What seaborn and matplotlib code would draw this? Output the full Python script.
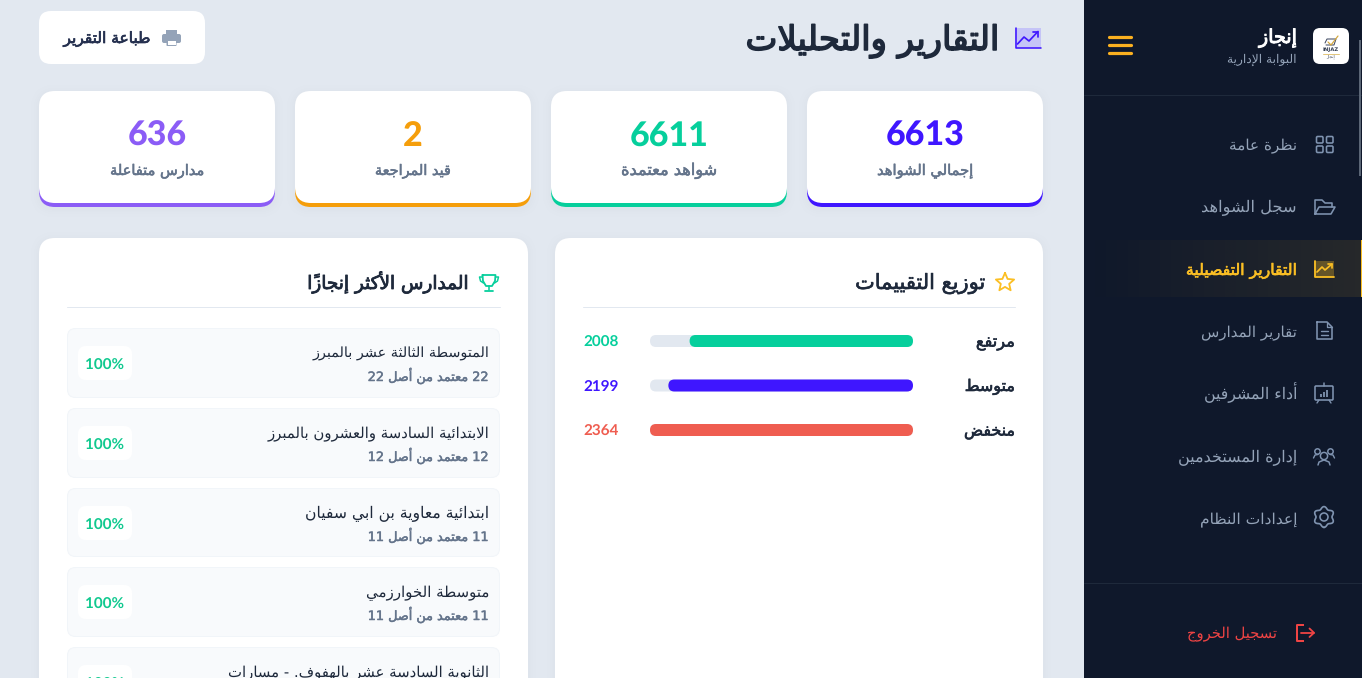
import numpy as np
import matplotlib
matplotlib.use("Agg")
import matplotlib.pyplot as plt
import matplotlib.patheffects as pe
from matplotlib.patches import FancyBboxPatch, Circle, Rectangle
import seaborn as sns

# ---------- data ----------
kpi_values = [6613, 6611, 2, 636]
kpi_labels = ["إجمالي الشواهد", "شواهد معتمدة", "قيد المراجعة", "مدارس متفاعلة"]
kpi_label_widths = [96, 96, 76, 94]
kpi_colors = ["#3f16ff", "#06cf9c", "#f59e0b", "#8b5cf6"]

rating_labels = ["مرتفع", "متوسط", "منخفض"]
rating_values = [2008, 2199, 2364]
rating_colors = ["#06cf9c", "#3f16ff", "#ef5d50"]
rating_label_widths = [39, 50, 51]

school_names = ["المتوسطة الثالثة عشر بالمبرز", "الابتدائية السادسة والعشرون بالمبرز",
                "ابتدائية معاوية بن ابي سفيان", "متوسطة الخوارزمي",
                "الثانوية السادسة عشر بالهفوف. - مسارات"]
school_name_widths = [178, 222, 184, 124, 261]
school_approved = [22, 12, 11, 11]
school_total = [22, 12, 11, 11]
school_pct = [100, 100, 100, 100, 100]

menu_labels = ["نظرة عامة", "سجل الشواهد", "التقارير التفصيلية", "تقارير المدارس",
               "أداء المشرفين", "إدارة المستخدمين", "إعدادات النظام"]
menu_widths = [68, 96, 111, 96, 94, 119, 97]
menu_baselines = [150, 212.5, 275, 337, 399, 462, 524]

# ---------- Arabic shaping (matplotlib has no shaper or bidi) ----------
_F = {}
def _reg(chars, start, four):
    c = start
    for ch in chars:
        if four:
            _F[ch] = (c, c + 1, c + 2, c + 3); c += 4
        else:
            _F[ch] = (c, c + 1, None, None); c += 2
_F["ء"] = (0xFE80, None, None, None)
_reg("آأؤإ", 0xFE81, False)
_F["ئ"] = (0xFE89, 0xFE8A, 0xFE8B, 0xFE8C)
_F["ا"] = (0xFE8D, 0xFE8E, None, None)
_F["ب"] = (0xFE8F, 0xFE90, 0xFE91, 0xFE92)
_F["ة"] = (0xFE93, 0xFE94, None, None)
_reg("تثجحخ", 0xFE95, True)
_reg("دذرز", 0xFEA9, False)
_reg("سشصضطظعغفقكلمنه", 0xFEB1, True)
_F["و"] = (0xFEED, 0xFEEE, None, None)
_F["ى"] = (0xFEEF, 0xFEF0, None, None)
_F["ي"] = (0xFEF1, 0xFEF2, 0xFEF3, 0xFEF4)
_LA = {"آ": (0xFEF5, 0xFEF6), "أ": (0xFEF7, 0xFEF8), "إ": (0xFEF9, 0xFEFA), "ا": (0xFEFB, 0xFEFC)}
_MARKS = "\u064b\u064c\u064d\u064e\u064f\u0650\u0651\u0652"

def ar(text):
    toks = []
    i = 0
    while i < len(text):
        ch = text[i]
        if ch in _MARKS and toks:
            toks[-1]["m"] += ch
        elif ch == "ل" and i + 1 < len(text) and text[i + 1] in _LA:
            toks.append({"c": ch, "la": _LA[text[i + 1]], "m": ""}); i += 1
        elif ch.isascii() and ch.isdigit():
            j = i
            while j < len(text) and text[j].isdigit():
                j += 1
            toks.append({"c": text[i:j], "m": ""}); i = j - 1
        else:
            toks.append({"c": ch, "m": ""})
        i += 1
    out = []
    for k, t in enumerate(toks):
        c = t["c"]
        if c not in _F:
            out.append(c + t["m"]); continue
        p = toks[k - 1] if k else None
        n = toks[k + 1] if k + 1 < len(toks) else None
        pj = bool(p and p["c"] in _F and "la" not in p and _F[p["c"]][2] is not None)
        nj = bool(n and n["c"] in _F and n["c"] != "ء")
        if "la" in t:
            g = t["la"][1 if pj else 0]
        else:
            iso, fin, ini, med = _F[c]
            cn = nj and ini is not None
            g = med if (pj and cn) else fin if pj else ini if cn else iso
        out.append(chr(g) + t["m"])
    return "".join(reversed(out))

# ---------- theme and canvas ----------
sns.set_theme(style="white")
plt.rcParams["font.family"] = ["DejaVu Sans"]
plt.rcParams["text.hinting"] = "no_hinting"

PAGE = "#e2e8f0"; SIDE = "#0f182b"; INK = "#1e293b"; MUTED = "#64748b"; ICON = "#7f93b0"
NAV = "#94a3b8"; GOLD = "#fbbf24"

fig = plt.figure(figsize=(13.62, 6.78), dpi=100, facecolor=PAGE)
ui = fig.add_axes([0, 0, 1, 1], zorder=0)
ui.set_xlim(0, 1362); ui.set_ylim(678, 0); ui.axis("off")
renderer = fig.canvas.get_renderer()
PX = 0.72

def fit(t, width):
    for _ in range(2):
        w = t.get_window_extent(renderer).width
        t.set_fontsize(t.get_fontsize() * width / w)
    return t

def embolden(t, amount, color):
    if amount:
        t.set_path_effects([pe.withStroke(linewidth=amount, foreground=color)])
    return t

def label(x, y, s, width, color, ha="right", stroke=0.0, z=5):
    t = ui.text(x, y, s, ha=ha, va="baseline", color=color, family="DejaVu Sans",
                fontsize=10, zorder=z)
    fit(t, width)
    return embolden(t, stroke, color)

def rrect(x0, y0, x1, y1, r, fc, ec="none", lw=0, z=2, alpha=None):
    p = FancyBboxPatch((x0, y0), x1 - x0, y1 - y0, boxstyle=f"round,pad=0,rounding_size={r}",
                       fc=fc, ec=ec, lw=lw * PX, zorder=z, alpha=alpha)
    ui.add_patch(p)
    return p

def path(pts, color, lw=1.5, z=6, cap="round", closed=False):
    pts = list(pts)
    if closed:
        pts = pts + [pts[0]]
    xs, ys = zip(*pts)
    ui.plot(xs, ys, color=color, lw=lw * PX, solid_capstyle=cap, solid_joinstyle="round", zorder=z)

def shadow(x0, y0, x1, y1, r):
    for d in (8, 5, 3, 1.5):
        rrect(x0 - d, y0 - d + 2, x1 + d, y1 + d + 2, r + d, "#64748b", alpha=0.009, z=1)

# ---------- sidebar ----------
ui.add_patch(Rectangle((1084, 0), 278, 678, fc=SIDE, ec="none", zorder=1))
for yy in (95, 583):
    ui.plot([1084, 1362], [yy, yy], color="#1e293b", lw=1 * PX, zorder=2)
grad = np.zeros((1, 200, 4))
grad[..., :3] = matplotlib.colors.to_rgb(GOLD)
grad[..., 3] = np.linspace(0, 0.1, 200)
ui.imshow(grad, extent=(1084, 1361, 297, 240), aspect="auto", zorder=2, interpolation="bilinear")
ui.set_xlim(0, 1362); ui.set_ylim(678, 0)
ui.add_patch(Rectangle((1360.6, 240), 1.4, 57, fc=GOLD, ec="none", zorder=3))
ui.add_patch(Rectangle((1359, 40), 2, 136, fc="#5b6676", ec="none", zorder=4))

# logo
rrect(1313, 28, 1349, 64, 7, "white", z=3)
path([(1325, 43), (1327, 39), (1336, 39), (1334, 45), (1326, 45)], "#3c4660", 1)
path([(1328, 42), (1331, 45), (1338, 36)], "#d4a63a", 1.2)
ui.text(1331, 51.5, "INJAZ", ha="center", va="baseline", fontsize=3.8, fontweight="bold", color="#333d52", zorder=6)
path([(1323, 53.5), (1339, 53.5)], "#e3c77d", 1)
ui.text(1331, 58, ar("إنجاز"), ha="center", va="baseline", fontsize=3.2, color="#333d52", zorder=6)

label(1297, 43, ar("إنجاز"), 38, "white", stroke=0.7)
label(1297, 63, ar("البوابة الإدارية"), 70, NAV)
for yy in (37, 45, 53):
    path([(1109, yy), (1131, yy)], "#fbb020", 3.2)

for lab, w, b, i in zip(menu_labels, menu_widths, menu_baselines, range(7)):
    active = i == 2
    label(1297, b, ar(lab), w, GOLD if active else NAV, stroke=0.45 if active else 0.0)
label(1277, 638, ar("تسجيل الخروج"), 90, "#ef4444")

# grid icon
for x0 in (1316.5, 1326.5):
    for y0 in (136.5, 146):
        rrect(x0, y0, x0 + 6.5, y0 + 6.5, 1.2, "none", ICON, 1.6, z=6)
# folder icon
path([(1315, 214), (1315, 200), (1322, 200), (1325, 203), (1332, 203), (1332, 207)], ICON, 1.6)
path([(1315, 214), (1319, 207), (1335, 207), (1331, 214)], ICON, 1.6, closed=True)
# active chart icon
ui.add_patch(Rectangle((1314, 261), 20, 16, fc=GOLD, alpha=0.3, ec="none", zorder=5))
path([(1314.5, 261), (1314.5, 276.5), (1334, 276.5)], GOLD, 1.8)
path([(1317, 272), (1322, 267), (1325, 270), (1332, 264)], GOLD, 1.7)
path([(1328, 264), (1332, 264), (1332, 268)], GOLD, 1.7)
# document icon
path([(1317, 322), (1327, 322), (1332, 327), (1332, 339), (1317, 339)], ICON, 1.6, closed=True)
path([(1327, 322), (1327, 327), (1332, 327)], ICON, 1.3)
path([(1321, 331), (1328, 331)], ICON, 1.4); path([(1321, 335), (1328, 335)], ICON, 1.4)
# presentation icon
rrect(1315, 386, 1333, 400, 1, "none", ICON, 1.6, z=6)
path([(1324, 383), (1324, 386)], ICON, 1.5)
path([(1319, 400), (1317, 403)], ICON, 1.4); path([(1329, 400), (1331, 403)], ICON, 1.4)
for xb, yt in ((1320.5, 394), (1323.8, 392), (1327.2, 390)):
    path([(xb, 397), (xb, yt)], ICON, 1.8, cap="butt")
# users icon
for cx, cy, rr in ((1324, 456, 3.6), (1317.5, 451.5, 2.7), (1330.5, 451.5, 2.7)):
    ui.add_patch(Circle((cx, cy), rr, fc="none", ec=ICON, lw=1.5 * PX, zorder=6))
path([(1318, 465), (1319, 462), (1324, 460), (1329, 462), (1330, 465)], ICON, 1.5)
path([(1313.5, 458), (1315, 455), (1318, 454.5)], ICON, 1.4)
path([(1334.5, 458), (1333, 455), (1330, 454.5)], ICON, 1.4)
# gear icon
ang = np.linspace(0, 2 * np.pi, 120)
rad = 9.2 + 1.2 * np.cos(6 * ang)
path(zip(1324 + rad * np.sin(ang), 517 + rad * np.cos(ang)), ICON, 1.7)
ui.add_patch(Circle((1324, 517), 4, fc="none", ec=ICON, lw=1.6 * PX, zorder=6))
# logout icon
path([(1304, 624.5), (1296.5, 624.5), (1296.5, 641), (1304, 641)], "#ef4444", 2, cap="butt")
path([(1301, 632.8), (1314, 632.8)], "#ef4444", 1.8)
path([(1309.5, 628.5), (1314, 632.8), (1309.5, 637)], "#ef4444", 1.8)

# ---------- header ----------
label(999, 50, ar("التقارير والتحليلات"), 254, INK, stroke=1.1)
ui.add_patch(Rectangle((1015, 28), 26, 20, fc="#c5c4f7", ec="none", zorder=4))
path([(1015.7, 28), (1015.7, 48), (1041, 48)], "#3f16ff", 1.6)
path([(1017.5, 44), (1024, 37), (1029, 41), (1038, 31.5)], "#3f16ff", 1.7)
path([(1033, 31.5), (1038, 31.5), (1038, 36.5)], "#3f16ff", 1.7)

rrect(39, 11, 205, 64, 12, "white", z=2)
label(150, 43, ar("طباعة التقرير"), 87, "#25304f", stroke=0.5)
PR = "#94a3b8"
rrect(162, 34, 181, 43, 2, PR, z=5)
ui.add_patch(Rectangle((166, 30), 11, 4.5, fc=PR, ec="none", zorder=5))
rrect(166.5, 40, 176.5, 46, 0.8, PR, z=5)
ui.add_patch(Rectangle((167.5, 41), 8, 3.5, fc="white", ec="none", zorder=6))

# ---------- KPI cards ----------
card_x = [807, 551, 295, 39]
for x0, v, lab, w, col in zip(card_x, kpi_values, kpi_labels, kpi_label_widths, kpi_colors):
    shadow(x0, 91, x0 + 236, 207, 16)
    rrect(x0, 170, x0 + 236, 207, 16, col, z=2)
    rrect(x0, 91, x0 + 236, 203, 16, "white", z=3)
    ui.text(x0 + 118, 146, f"{v}", ha="center", va="baseline", color=col, fontsize=24.5,
            family="Lato", fontweight="black", zorder=5)
    label(x0 + 118, 175, ar(lab), w, MUTED, ha="center", stroke=0.4)

# ---------- panels ----------
for x0, x1 in ((39, 528), (555, 1043)):
    shadow(x0, 238, x1, 720, 16)
    rrect(x0, 238, x1, 720, 16, "white", z=2)
for x0, x1 in ((67, 500), (583, 1015)):
    ui.plot([x0, x1], [307, 307], color="#e2e8f0", lw=1 * PX, zorder=3)

label(985, 289, ar("توزيع التقييمات"), 130, INK, stroke=0.45)
label(468, 289, ar("المدارس الأكثر إنجازاً"), 161, INK, stroke=0.6)

# star icon
sa = np.arange(10) * np.pi / 5
sr = np.where(np.arange(10) % 2 == 0, 9.6, 4.4)
path(zip(1005 + sr * np.sin(sa), 282.5 - sr * np.cos(sa)), GOLD, 1.8, closed=True)
# trophy icon
TR = "#06cf9c"
path([(482.5, 275), (495.5, 275), (495, 281), (492, 286), (486, 286), (483, 281)], TR, 1.8, closed=True)
path([(482.5, 277), (479.5, 277), (480.5, 281), (483.5, 283)], TR, 1.5)
path([(495.5, 277), (498.5, 277), (497.5, 281), (494.5, 283)], TR, 1.5)
path([(489, 286), (489, 290)], TR, 1.6); path([(485, 291), (493, 291)], TR, 1.8)

# ---------- ratings bars (seaborn) ----------
bar_ax = fig.add_axes([650 / 1362, 1 - 452.25 / 678, 263 / 1362, 133.5 / 678], zorder=3)
bar_ax.patch.set_alpha(0)
shaped_ratings = [ar(s) for s in rating_labels]
vmax = max(rating_values)
sns.barplot(x=rating_values, y=shaped_ratings, hue=shaped_ratings, palette=rating_colors,
            orient="h", width=12 / 44.5, saturation=1, legend=False, dodge=False, ax=bar_ax)
bar_ax.set_xlim(vmax, 0)
bar_ax.set_ylim(2.5, -0.5)
bar_ax.axis("off")
sx = 263 / vmax; sy = 44.5
for bar in list(bar_ax.patches):
    x, y, w, h = bar.get_x(), bar.get_y(), bar.get_width(), bar.get_height()
    if w == 0:
        continue
    col = bar.get_facecolor()
    bar.remove()
    style = f"round,pad=0,rounding_size={6 / sx}"
    bar_ax.add_patch(FancyBboxPatch((0, y), vmax, h, boxstyle=style, mutation_aspect=sx / sy,
                                    fc="#e2e8f0", ec="none", zorder=1))
    bar_ax.add_patch(FancyBboxPatch((x, y), w, h, boxstyle=style, mutation_aspect=sx / sy,
                                    fc=col, ec="none", zorder=2))
for i, (s, v, c, lw_) in enumerate(zip(shaped_ratings, rating_values, rating_colors, rating_label_widths)):
    t = bar_ax.annotate(s, xy=(0, i), xytext=(102 * PX, -5.5 * PX), textcoords="offset points",
                        ha="right", va="baseline", color=INK, annotation_clip=False, fontsize=10)
    fit(t, lw_)
    embolden(t, 0.45, INK)
    t = bar_ax.annotate(f"{v}", xy=(vmax, i), xytext=(-67 * PX, -5.5 * PX), textcoords="offset points",
                        ha="left", va="baseline", color=c, family="Lato", fontweight="bold",
                        annotation_clip=False, fontsize=11)

# ---------- schools list ----------
row_tops = [328, 408, 488, 567, 647]
row_bottoms = [398, 478, 557, 637, 717]
for i, (t0, t1, nm, nw, pct) in enumerate(zip(row_tops, row_bottoms, school_names, school_name_widths, school_pct)):
    rrect(67.5, t0 + .5, 499.5, t1 - .5, 8, "#f8fafc", "#f1f5f9", 1, z=3)
    rrect(78, t0 + 18, 132, t0 + 52, 8, "white", z=4)
    label(489, t0 + 30, ar(nm), nw, INK)
    ui.text(105, t0 + 41.5, f"{pct}%", ha="center", va="baseline", color="#10c98f", family="Lato",
            fontweight="bold", fontsize=11, zorder=5)
    if i < len(school_approved):
        sub = f"{school_approved[i]} معتمد من أصل {school_total[i]}"
        label(489, t0 + 53, ar(sub), 121, MUTED, stroke=0.35)

fig.savefig("out.png", dpi=100, facecolor=PAGE)
